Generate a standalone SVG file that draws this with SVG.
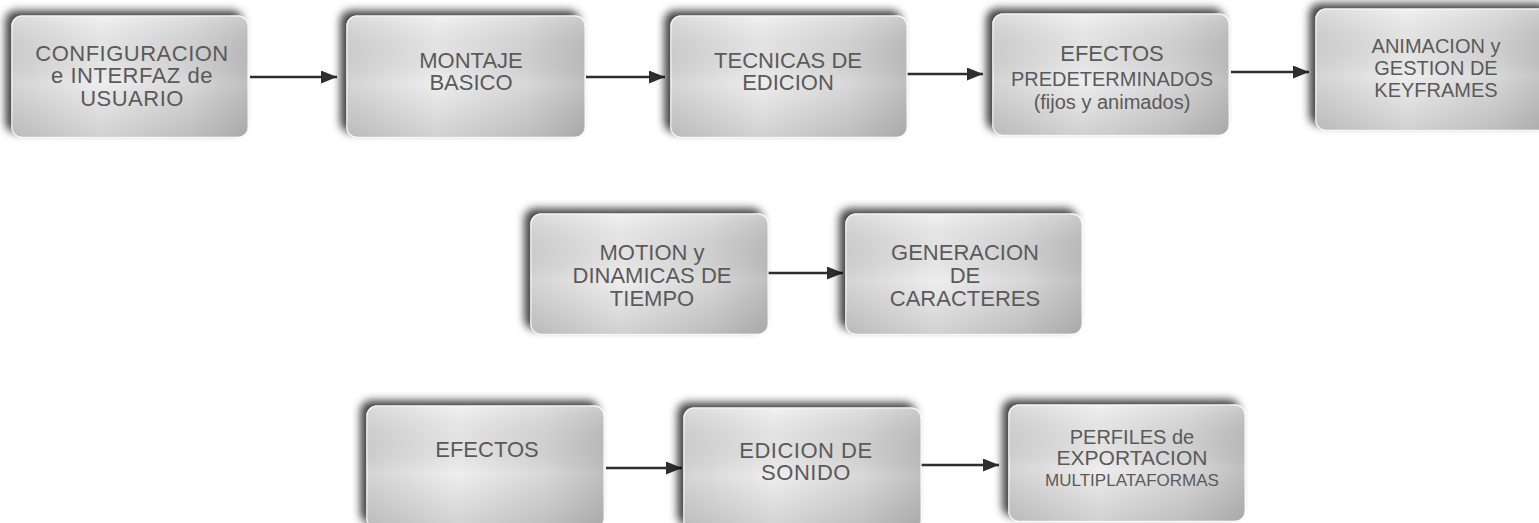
<svg xmlns="http://www.w3.org/2000/svg" width="1539" height="523" viewBox="0 0 1539 523">
<defs>
  <linearGradient id="gh" x1="0" y1="0" x2="1" y2="0">
    <stop offset="0" stop-color="#d4d4d4"/>
    <stop offset="0.38" stop-color="#eeeeee"/>
    <stop offset="0.75" stop-color="#d8d8d8"/>
    <stop offset="1" stop-color="#bfbfbf"/>
  </linearGradient>
  <linearGradient id="gv" x1="0" y1="0" x2="0" y2="1">
    <stop offset="0" stop-color="#ffffff" stop-opacity="0.2"/>
    <stop offset="0.55" stop-color="#000000" stop-opacity="0"/>
    <stop offset="1" stop-color="#000000" stop-opacity="0.12"/>
  </linearGradient>
  <filter id="sh" x="-10%" y="-20%" width="120%" height="140%">
    <feGaussianBlur in="SourceAlpha" stdDeviation="4.5"/>
    <feOffset dx="-6" dy="-5" result="b"/>
    <feFlood flood-color="#000" flood-opacity="0.75"/>
    <feComposite in2="b" operator="in"/>
    <feMerge><feMergeNode/><feMergeNode in="SourceGraphic"/></feMerge>
  </filter>
  <marker id="ah" markerUnits="userSpaceOnUse" markerWidth="16" markerHeight="13" refX="16" refY="6.5" orient="auto">
    <path d="M0,0 L16,6.5 L0,13 z" fill="#2e2e2e"/>
  </marker>
  <style>
    .box { fill: url(#gh); stroke: #fafafa; stroke-width: 1.2; filter: url(#sh); }
    .ov { fill: url(#gv); }
    .t { font-family: "Liberation Sans", Arial, sans-serif; fill: #5a5a5a; text-anchor: middle; font-size: 22px; }
    .s20 { font-size: 20px; }
    .s21 { font-size: 21px; }
    .s17 { font-size: 17px; }
    .ln { stroke: #2e2e2e; stroke-width: 2.5; fill: none; marker-end: url(#ah); }
  </style>
</defs>
<rect width="1539" height="523" fill="#ffffff"/>

<g id="connectors">
  <line class="ln" x1="250" y1="77" x2="337" y2="77"/>
  <line class="ln" x1="586" y1="77" x2="665" y2="77"/>
  <line class="ln" x1="907" y1="74" x2="983" y2="74"/>
  <line class="ln" x1="1231" y1="72" x2="1309" y2="72"/>
  <line class="ln" x1="768" y1="273" x2="843" y2="273"/>
  <line class="ln" x1="606" y1="468" x2="682" y2="468"/>
  <line class="ln" x1="921" y1="465" x2="999" y2="465"/>
</g>

<g id="n1">
  <rect class="box" x="12" y="16" width="236" height="121" rx="10"/>
  <rect class="ov" x="12" y="16" width="236" height="121" rx="10"/>
  <text class="t" x="132" y="61" letter-spacing="0.5">CONFIGURACION</text>
  <text class="t" x="132" y="83" letter-spacing="0.5">e INTERFAZ de</text>
  <text class="t" x="132" y="106" letter-spacing="0.5">USUARIO</text>
</g>
<g id="n2">
  <rect class="box" x="347" y="16" width="238" height="121" rx="10"/>
  <rect class="ov" x="347" y="16" width="238" height="121" rx="10"/>
  <text class="t" x="471" y="68">MONTAJE</text>
  <text class="t" x="471" y="90">BASICO</text>
</g>
<g id="n3">
  <rect class="box" x="671" y="16" width="236" height="121" rx="10"/>
  <rect class="ov" x="671" y="16" width="236" height="121" rx="10"/>
  <text class="t" x="788" y="68">TECNICAS DE</text>
  <text class="t" x="788" y="90">EDICION</text>
</g>
<g id="n4">
  <rect class="box" x="993" y="14" width="236" height="121" rx="10"/>
  <rect class="ov" x="993" y="14" width="236" height="121" rx="10"/>
  <text class="t" x="1112" y="61">EFECTOS</text>
  <text class="t s20" x="1112" y="86">PREDETERMINADOS</text>
  <text class="t s20" x="1112" y="109">(fijos y animados)</text>
</g>
<g id="n5">
  <rect class="box" x="1316" y="9" width="238" height="121" rx="10"/>
  <rect class="ov" x="1316" y="9" width="238" height="121" rx="10"/>
  <text class="t s20" x="1436" y="53">ANIMACION y</text>
  <text class="t s20" x="1436" y="75">GESTION DE</text>
  <text class="t s20" x="1436" y="97">KEYFRAMES</text>
</g>
<g id="n6">
  <rect class="box" x="531" y="214" width="237" height="120" rx="10"/>
  <rect class="ov" x="531" y="214" width="237" height="120" rx="10"/>
  <text class="t" x="652" y="260">MOTION y</text>
  <text class="t" x="652" y="283">DINAMICAS DE</text>
  <text class="t" x="652" y="306">TIEMPO</text>
</g>
<g id="n7">
  <rect class="box" x="846" y="214" width="236" height="120" rx="10"/>
  <rect class="ov" x="846" y="214" width="236" height="120" rx="10"/>
  <text class="t" x="965" y="260">GENERACION</text>
  <text class="t" x="965" y="283">DE</text>
  <text class="t" x="965" y="306">CARACTERES</text>
</g>
<g id="n8">
  <rect class="box" x="367" y="406" width="237" height="122" rx="10"/>
  <rect class="ov" x="367" y="406" width="237" height="122" rx="10"/>
  <text class="t" x="487" y="457">EFECTOS</text>
</g>
<g id="n9">
  <rect class="box" x="684" y="408" width="237" height="122" rx="10"/>
  <rect class="ov" x="684" y="408" width="237" height="122" rx="10"/>
  <text class="t" x="806" y="458" letter-spacing="0.5">EDICION DE</text>
  <text class="t" x="806" y="480" letter-spacing="0.5">SONIDO</text>
</g>
<g id="n10">
  <rect class="box" x="1009" y="405" width="236" height="116" rx="10"/>
  <rect class="ov" x="1009" y="405" width="236" height="116" rx="10"/>
  <text class="t s20" x="1132" y="444">PERFILES de</text>
  <text class="t s21" x="1132" y="465">EXPORTACION</text>
  <text class="t s17" x="1132" y="486">MULTIPLATAFORMAS</text>
</g>
</svg>
